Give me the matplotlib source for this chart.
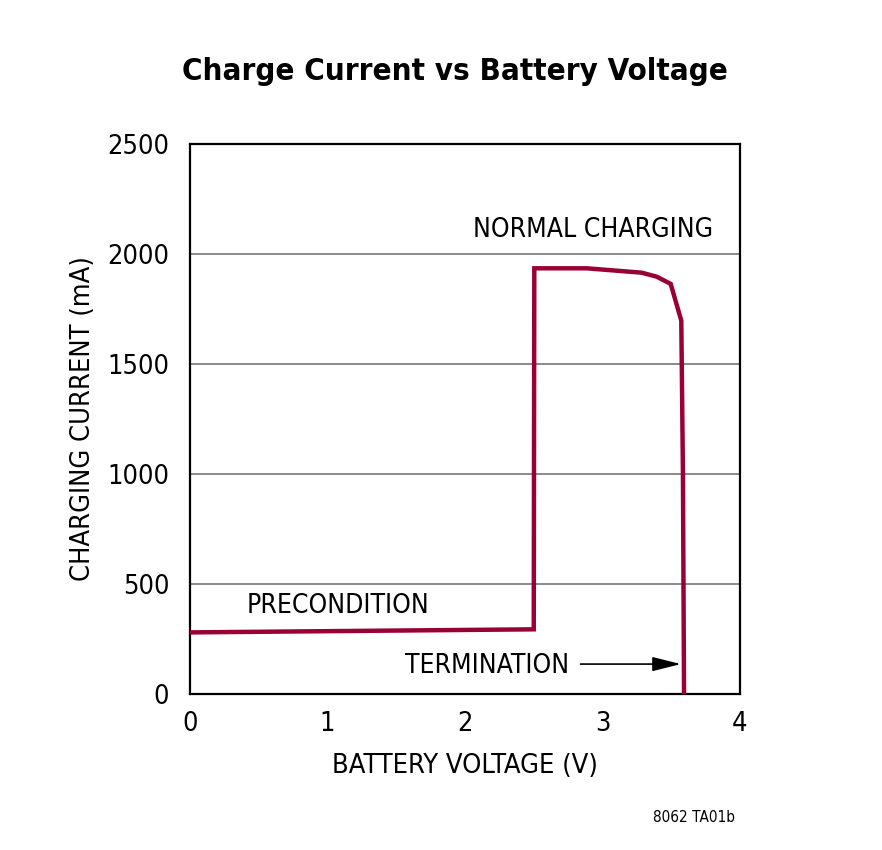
import matplotlib
matplotlib.use("Agg")
import matplotlib.pyplot as plt

plt.rcParams['font.family'] = ['DejaVu Sans']
plt.rcParams['font.stretch'] = 'condensed'

voltage = [0.0, 2.50, 2.504, 2.885, 3.127, 3.285, 3.394, 3.496, 3.573, 3.585, 3.593]
current = [280, 294, 1935, 1935, 1923, 1915, 1897, 1864, 1697, 1000, 0]

x_ticks = [0, 1, 2, 3, 4]
y_ticks = [0, 500, 1000, 1500, 2000, 2500]

fig = plt.figure(figsize=(8.82, 8.5), dpi=100)
ax = fig.add_axes([190/882, 1-694/850, 550/882, 550/850])

ax.plot(voltage, current, color='#990033', lw=3.2, solid_joinstyle='miter', zorder=3)
ax.set_xlim(0, 4)
ax.set_ylim(0, 2500)
ax.set_xticks(x_ticks)
ax.set_yticks(y_ticks)
ax.tick_params(axis='x', length=0, labelsize=19.5, pad=12)
ax.tick_params(axis='y', length=0, labelsize=19.5, pad=15)
for y in y_ticks[1:-1]:
    ax.axhline(y, color='#808080', lw=1.3, zorder=1)
for s in ax.spines.values():
    s.set_linewidth(1.6)
    s.set_color('black')

ax.set_xlabel('BATTERY VOLTAGE (V)', fontsize=19.5, labelpad=12)
ax.set_ylabel('CHARGING CURRENT (mA)', fontsize=19.5, labelpad=8)

fig.text(455/882, 1-72/850, 'Charge Current vs Battery Voltage', ha='center', va='center',
         fontsize=22.4, fontweight='bold')

ax.text(2.93, 2110, 'NORMAL CHARGING', ha='center', va='center', fontsize=19)
ax.text(1.076, 400, 'PRECONDITION', ha='center', va='center', fontsize=19)
ax.text(2.16, 127, 'TERMINATION', ha='center', va='center', fontsize=19)
ax.annotate('', xy=(3.57, 136), xytext=(2.84, 136),
            arrowprops=dict(arrowstyle='-|>,head_length=0.8,head_width=0.2', color='black', lw=1.2,
                            mutation_scale=22, shrinkA=0, shrinkB=0))

fig.text(735/882, 1-818/850, '8062 TA01b', ha='right', va='center', fontsize=11)

fig.savefig('out.png', dpi=100)
